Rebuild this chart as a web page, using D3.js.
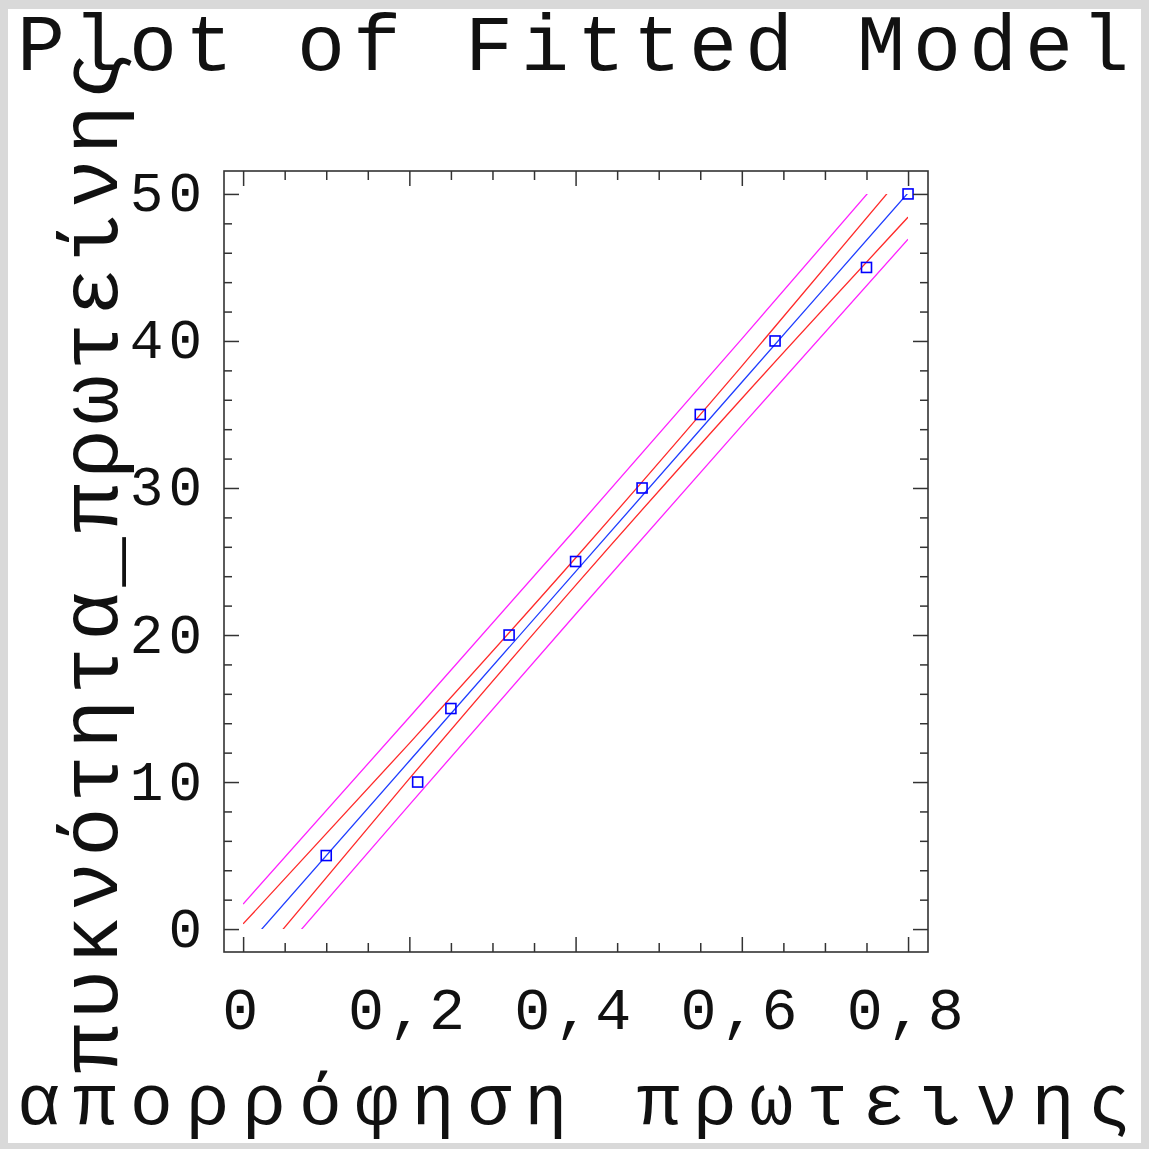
<!DOCTYPE html>
<html>
<head>
<meta charset="utf-8">
<script src="https://cdn.jsdelivr.net/npm/d3@7"></script>
<style>
  html, body { margin: 0; padding: 0; background: #ffffff; }
  svg { display: block; }
</style>
</head>
<body>
<script>
// ---- data ----
const titleText = "Plot of Fitted Model";
const xLabel = "απορρόφηση πρωτεινης";
const yLabel = "πυκνότητα_πρωτείνης";

// observed points
const obsX = [0.10, 0.21, 0.25, 0.32, 0.40, 0.48, 0.55, 0.64, 0.75, 0.80];
const obsY = [5, 10, 15, 20, 25, 30, 35, 40, 45, 50];

// fitted line and limits, sampled at these x positions
const curveX   = [0, 0.2, 0.4, 0.6, 0.8];
const fitY     = [-1.45, 11.43, 24.31, 37.19, 50.07];
const upperCI  = [0.35, 12.63, 25.24, 38.29, 51.72];
const lowerCI  = [-3.25, 10.23, 23.38, 36.09, 48.42];
const upperPI  = [1.70, 14.41, 27.21, 40.14, 53.22];
const lowerPI  = [-4.60, 8.45, 21.41, 34.24, 46.92];

// axis ticks
const xMajor = [0, 0.2, 0.4, 0.6, 0.8];
const xMajorLabels = ["0", "0,2", "0,4", "0,6", "0,8"];
const xMinor = [0.05, 0.1, 0.15, 0.25, 0.3, 0.35, 0.45, 0.5, 0.55, 0.65, 0.7, 0.75];
const yMajor = [0, 10, 20, 30, 40, 50];
const yMajorLabels = ["0", "10", "20", "30", "40", "50"];
const yMinor = [2, 4, 6, 8, 12, 14, 16, 18, 22, 24, 26, 28, 32, 34, 36, 38, 42, 44, 46, 48];

const xDomain = [-0.023, 0.824];
const yDomain = [-1.56, 51.56];

// ---- drawing ----
const W = 1149, H = 1149;
const FONT = "'Liberation Mono', 'DejaVu Sans Mono', monospace";
const plot = { left: 224, right: 928, top: 171, bottom: 952 };

const svg = d3.select("body").append("svg")
  .attr("width", W).attr("height", H);

// window border
svg.append("rect").attr("x", 0).attr("y", 0).attr("width", W).attr("height", H).attr("fill", "#d9d9d9");
svg.append("rect").attr("x", 8).attr("y", 9).attr("width", 1133).attr("height", 1134).attr("fill", "#ffffff");

const x = d3.scaleLinear().domain(xDomain).range([plot.left, plot.right]);
const y = d3.scaleLinear().domain(yDomain).range([plot.bottom, plot.top]);

const frameColor = "#333333";

// clip: curves are drawn for 0<=x<=0.8 and 0<=y<=50
svg.append("clipPath").attr("id", "clipData")
  .append("rect")
  .attr("x", x(0)).attr("y", y(50))
  .attr("width", x(0.8) - x(0)).attr("height", y(0) - y(50));

const line = d3.line().x(d => x(d[0])).y(d => y(d[1])).curve(d3.curveMonotoneX);
const curves = [
  { ys: upperPI, color: "#ff22ff" },
  { ys: lowerPI, color: "#ff22ff" },
  { ys: upperCI, color: "#ff2a2a" },
  { ys: lowerCI, color: "#ff2a2a" },
  { ys: fitY,    color: "#1f3dff" }
];
const gCurves = svg.append("g").attr("clip-path", "url(#clipData)");
curves.forEach(c => {
  gCurves.append("path")
    .datum(curveX.map((xv, i) => [xv, c.ys[i]]))
    .attr("d", line)
    .attr("fill", "none")
    .attr("stroke", c.color)
    .attr("stroke-width", 1.3);
});

// points
const sq = 10;
svg.append("g").selectAll("rect")
  .data(obsX.map((xv, i) => [xv, obsY[i]]))
  .join("rect")
  .attr("x", d => x(d[0]) - sq / 2)
  .attr("y", d => y(d[1]) - sq / 2)
  .attr("width", sq).attr("height", sq)
  .attr("fill", "none")
  .attr("stroke", "#0000ff")
  .attr("stroke-width", 1.6);

// ticks via d3 axes (inward)
function styleAxis(g) {
  g.select(".domain").remove();
  g.selectAll(".tick line").attr("stroke", frameColor).attr("stroke-width", 1.5);
}
// bottom
svg.append("g").attr("transform", `translate(0,${plot.bottom})`)
  .call(d3.axisBottom(x).tickValues(xMajor).tickSizeInner(-15).tickSizeOuter(0)
    .tickFormat((d, i) => xMajorLabels[i]).tickPadding(0))
  .call(styleAxis)
  .call(g => g.selectAll(".tick text")
    .attr("y", 77).attr("dy", null).attr("dx", -1)
    .attr("font-family", FONT).attr("font-size", 60)
    .attr("letter-spacing", 4.5)
    .attr("fill", "#111"));
svg.append("g").attr("transform", `translate(0,${plot.bottom})`)
  .call(d3.axisBottom(x).tickValues(xMinor).tickSizeInner(-9).tickSizeOuter(0).tickFormat(""))
  .call(styleAxis);
// top
svg.append("g").attr("transform", `translate(0,${plot.top})`)
  .call(d3.axisTop(x).tickValues(xMajor).tickSizeInner(-15).tickSizeOuter(0).tickFormat(""))
  .call(styleAxis);
svg.append("g").attr("transform", `translate(0,${plot.top})`)
  .call(d3.axisTop(x).tickValues(xMinor).tickSizeInner(-9).tickSizeOuter(0).tickFormat(""))
  .call(styleAxis);
// left
svg.append("g").attr("transform", `translate(${plot.left},0)`)
  .call(d3.axisLeft(y).tickValues(yMajor).tickSizeInner(-15).tickSizeOuter(0)
    .tickFormat((d, i) => yMajorLabels[i]).tickPadding(0))
  .call(styleAxis)
  .call(g => g.selectAll(".tick text")
    .attr("x", -17).attr("dy", 17)
    .attr("text-anchor", "end")
    .attr("font-family", FONT).attr("font-size", 56)
    .attr("letter-spacing", 5)
    .attr("fill", "#111"));
svg.append("g").attr("transform", `translate(${plot.left},0)`)
  .call(d3.axisLeft(y).tickValues(yMinor).tickSizeInner(-8).tickSizeOuter(0).tickFormat(""))
  .call(styleAxis);
// right
svg.append("g").attr("transform", `translate(${plot.right},0)`)
  .call(d3.axisRight(y).tickValues(yMajor).tickSizeInner(-15).tickSizeOuter(0).tickFormat(""))
  .call(styleAxis);
svg.append("g").attr("transform", `translate(${plot.right},0)`)
  .call(d3.axisRight(y).tickValues(yMinor).tickSizeInner(-8).tickSizeOuter(0).tickFormat(""))
  .call(styleAxis);

// frame
svg.append("rect")
  .attr("x", plot.left).attr("y", plot.top)
  .attr("width", plot.right - plot.left).attr("height", plot.bottom - plot.top)
  .attr("fill", "none").attr("stroke", frameColor).attr("stroke-width", 1.6);

// title
svg.append("text")
  .attr("x", 17).attr("y", 70)
  .attr("font-family", FONT).attr("font-size", 80)
  .attr("textLength", 1112).attr("lengthAdjust", "spacing")
  .attr("fill", "#111")
  .text(titleText);

// x label
svg.append("text")
  .attr("x", 17).attr("y", 1124)
  .attr("font-family", FONT).attr("font-size", 72)
  .attr("textLength", 1114).attr("lengthAdjust", "spacing")
  .attr("fill", "#111")
  .text(xLabel);

// y label (rotated)
svg.append("text")
  .attr("transform", "translate(117,1073) rotate(-90)")
  .attr("x", 0).attr("y", 0)
  .attr("font-family", FONT).attr("font-size", 82)
  .attr("textLength", 1022).attr("lengthAdjust", "spacing")
  .attr("fill", "#111")
  .text(yLabel);
</script>
</body>
</html>
